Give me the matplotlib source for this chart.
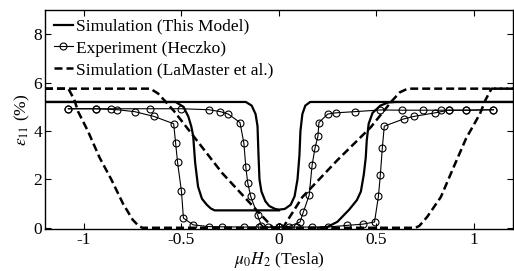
import numpy as np
import matplotlib
matplotlib.use('Agg')
import matplotlib.pyplot as plt

plt.rcParams['font.family'] = ['Liberation Serif', 'DejaVu Serif']
plt.rcParams['mathtext.fontset'] = 'stix'
plt.rcParams['axes.unicode_minus'] = False

# simulation (this model)
sim_u_x = [-1.2, -0.17, -0.14, -0.12, -0.11, -0.105, -0.10, -0.09, -0.07, -0.05, -0.02, 0.0,
           0.03, 0.06, 0.08, 0.095, 0.105, 0.11, 0.12, 0.135, 0.16, 1.2]
sim_u_y = [5.2, 5.2, 5.05, 4.7, 4.2, 3.0, 2.0, 1.5, 1.1, 0.9, 0.78, 0.75,
           0.78, 0.95, 1.3, 2.0, 3.0, 4.0, 4.7, 5.05, 5.2, 5.2]
sim_l_x = [-1.2, -0.53, -0.49, -0.465, -0.45, -0.44, -0.43, -0.415, -0.395, -0.37, -0.35, -0.33, 0.0]
sim_l_y = [5.2, 5.2, 5.0, 4.6, 4.2, 3.8, 2.7, 1.7, 1.2, 0.95, 0.8, 0.72, 0.72]
sim_r_x = [0.2, 0.25, 0.3, 0.36, 0.40, 0.42, 0.435, 0.445, 0.45, 0.46, 0.48, 0.52, 0.56, 0.6, 1.2]
sim_r_y = [0.0, 0.04, 0.25, 0.75, 1.15, 1.5, 2.2, 2.9, 3.6, 4.3, 4.75, 5.05, 5.18, 5.2, 5.2]

# experiment (Heczko)
exp1_x = [0.0, -0.1, -0.18, -0.29, -0.36, -0.44, -0.49, -0.50, -0.52, -0.53, -0.54,
          -0.64, -0.74, -0.83, -0.94, -1.08]
exp1_y = [0.02, 0.03, 0.03, 0.04, 0.05, 0.12, 0.4, 1.5, 2.7, 3.5, 4.3,
          4.6, 4.8, 4.88, 4.92, 4.92]
exp3_x = [-1.08, -0.94, -0.86, -0.66, -0.5, -0.36, -0.3, -0.26, -0.2, -0.18, -0.17,
          -0.16, -0.145, -0.11, -0.09, -0.056, 0.0]
exp3_y = [4.92, 4.92, 4.92, 4.92, 4.92, 4.88, 4.8, 4.7, 4.35, 3.5, 2.5,
          1.85, 1.3, 0.53, 0.08, 0.03, 0.03]
exp2_x = [0.0, 0.09, 0.17, 0.25, 0.35, 0.43, 0.49, 0.51, 0.52, 0.53, 0.54,
          0.64, 0.69, 0.80, 0.87, 0.96, 1.10]
exp2_y = [0.03, 0.03, 0.03, 0.03, 0.1, 0.15, 0.24, 1.3, 2.2, 3.3, 4.2,
          4.5, 4.6, 4.75, 4.86, 4.86, 4.88]
exp4_x = [1.10, 0.96, 0.87, 0.83, 0.74, 0.63, 0.52, 0.39, 0.29, 0.25, 0.205,
          0.2, 0.185, 0.17, 0.155, 0.125, 0.108, 0.05, 0.0]
exp4_y = [4.88, 4.86, 4.86, 4.86, 4.86, 4.86, 4.87, 4.8, 4.75, 4.7, 4.35,
          3.8, 3.3, 2.6, 1.35, 0.65, 0.24, 0.05, 0.03]

# simulation (LaMaster et al.)
lam_o_x = [-1.2, -1.08, -1.05, -1.03, -0.98, -0.92, -0.86, -0.80, -0.75, -0.72, -0.70,
           0.70, 0.72, 0.76, 0.83, 0.89, 0.96, 1.03, 1.06, 1.09, 1.2]
lam_o_y = [5.75, 5.75, 5.3, 4.8, 4.0, 2.9, 2.0, 1.0, 0.33, 0.08, 0.0,
           0.0, 0.08, 0.45, 1.27, 2.4, 3.7, 4.7, 5.3, 5.75, 5.75]
lam_i_x = [-1.2, -0.66, -0.62, -0.58, -0.54, -0.29, -0.13, -0.03, 0.02, 0.12, 0.30,
           0.47, 0.58, 0.62, 0.66, 1.2]
lam_i_y = [5.75, 5.75, 5.55, 5.2, 4.84, 2.25, 0.86, 0.0, 0.0, 1.27, 2.8,
           4.15, 5.25, 5.6, 5.75, 5.75]

fig = plt.figure(figsize=(5.14, 2.71), dpi=100)
ax = fig.add_axes([0.0875, 0.155, 0.9105, 0.808])

lw = 1.6
ax.plot(sim_u_x, sim_u_y, 'k-', lw=lw, label='Simulation (This Model)')
ax.plot(sim_l_x, sim_l_y, 'k-', lw=lw)
ax.plot(sim_r_x, sim_r_y, 'k-', lw=lw)

mk = dict(color='k', lw=0.8, marker='o', ms=5, mfc='none', mec='k', mew=0.8)
ax.plot(exp1_x, exp1_y, label='Experiment (Heczko)', **mk)
ax.plot(exp3_x, exp3_y, **mk)
ax.plot(exp2_x, exp2_y, **mk)
ax.plot(exp4_x, exp4_y, **mk)

ax.plot(lam_o_x, lam_o_y, 'k--', lw=1.8, dashes=(3.2, 1.6), label='Simulation (LaMaster et al.)')
ax.plot(lam_i_x, lam_i_y, 'k--', lw=1.8, dashes=(3.2, 1.6))

ax.set_xlim(-1.2, 1.2)
ax.set_ylim(-0.05, 9)
ax.set_xticks([-1, -0.5, 0, 0.5, 1])
ax.set_xticklabels(['-1', '-0.5', '0', '0.5', '1'])
ax.set_yticks([0, 2, 4, 6, 8])
ax.tick_params(direction='in', top=True, right=True, labelsize=12.5, length=4, pad=2)
for s in ax.spines.values():
    s.set_linewidth(1.0)

ax.set_xlabel(r'$\mu_0H_2$ (Tesla)', fontsize=12.5, labelpad=1.5)
ax.set_ylabel(r'$\varepsilon_{11}$ (%)', fontsize=12.5, labelpad=1)

ax.legend(loc='upper left', frameon=False, fontsize=12.5, handlelength=1.1,
          handletextpad=0.2, labelspacing=0.32, borderaxespad=0.3, borderpad=0.2)

fig.savefig('out.png', dpi=100)
